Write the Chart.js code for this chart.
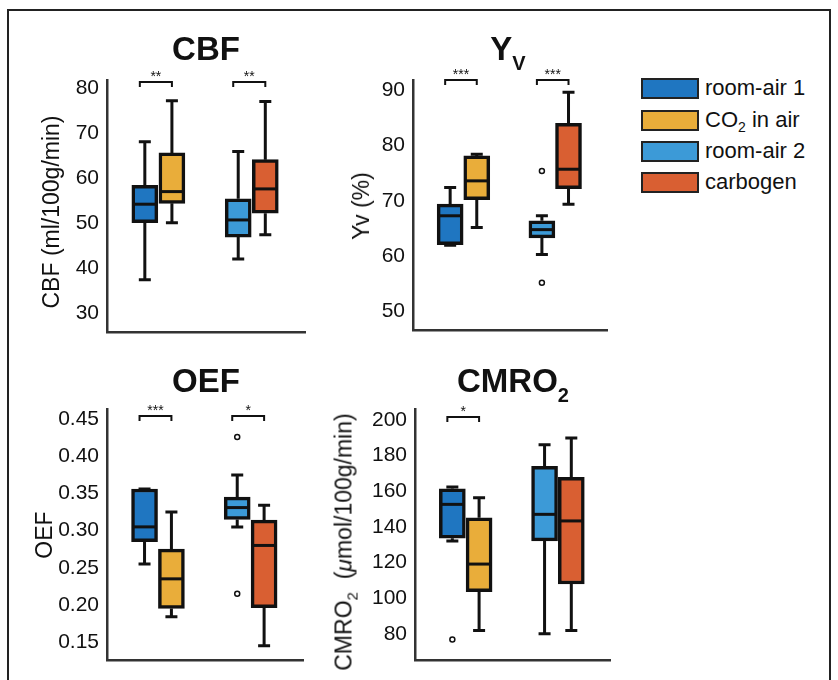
<!DOCTYPE html>
<html>
<head>
<meta charset="utf-8">
<script src="https://cdn.jsdelivr.net/npm/chart.js@4.4.0/dist/chart.umd.min.js"></script>
<style>
  body { margin: 0; width: 838px; height: 680px; overflow: hidden; position: relative; background: #fff;
         font-family: "Liberation Sans", Arial, sans-serif; color: #111; }
  #frame { position: absolute; left: 7px; top: 9px; width: 820px; height: 720px; border: 2px solid #222; }
  canvas { position: absolute; }
  .title { position: absolute; font-weight: bold; font-size: 33px; line-height: 33px; white-space: nowrap; transform: translateX(-50%); }
  .title .sub { font-size: 20px; position: relative; top: 10px; }
  .ylab { position: absolute; font-size: 23px; line-height: 24px; white-space: nowrap; transform: translate(-50%, -50%) rotate(-90deg); }
  .ylab .sub { font-size: 15px; position: relative; top: 6px; }
  .leg { position: absolute; left: 641px; height: 21px; }
  .leg .sw { position: absolute; left: 0; top: 0; width: 58px; height: 21px; box-sizing: border-box; border: 2.5px solid #222; }
  .leg .lt { position: absolute; left: 64px; top: -2px; font-size: 22px; line-height: 24px; white-space: nowrap; }
  .leg .sub { font-size: 14px; position: relative; top: 5px; }
</style>
</head>
<body>
<div id="frame"></div>

<canvas id="cbf"></canvas>
<canvas id="yv"></canvas>
<canvas id="oef"></canvas>
<canvas id="cmro2"></canvas>

<div class="title" style="left:206px; top:32px;">CBF</div>
<div class="title" style="left:508px; top:32px;">Y<span class="sub">V</span></div>
<div class="title" style="left:206px; top:364px;">OEF</div>
<div class="title" style="left:513px; top:364px;">CMRO<span class="sub">2</span></div>

<div class="ylab" style="left:51px; top:212px;">CBF (ml/100g/min)</div>
<div class="ylab" style="left:361px; top:206px;">Yv (%)</div>
<div class="ylab" style="left:44px; top:535px;">OEF</div>
<div class="ylab" style="left:345px; top:542px;">CMRO<span class="sub">2</span>&nbsp; (<i>&mu;</i>mol/100g/min)</div>

<div id="legend"></div>

<script>
// groups and box positions on the x axis
const groups = ["room-air 1", "CO2 in air", "room-air 2", "carbogen"];
const boxColors = ["#1f76c1", "#e9ad3a", "#3c9ad7", "#d95f32"];
const boxX = [0.855, 1.145, 1.855, 2.145];

// [min, q1, median, q3, max] per group
const cbfStats = [
  [37.4, 50.1, 54.2, 58.4, 68.1],
  [50.1, 54.4, 57.0, 65.6, 77.2],
  [42.0, 46.9, 50.7, 55.4, 65.9],
  [47.4, 52.2, 57.6, 64.1, 77.0]
];
const cbfOutliers = [[], [], [], []];
const cbfTicks = [30, 40, 50, 60, 70, 80];

const yvStats = [
  [62.0, 62.1, 67.3, 69.4, 72.4],
  [65.2, 70.2, 73.6, 78.1, 78.4],
  [60.3, 63.3, 64.8, 66.4, 67.3],
  [69.4, 72.2, 75.7, 84.0, 89.6]
];
const yvOutliers = [[], [], [75.4, 55.2], []];
const yvTicks = [50, 60, 70, 80, 90];

const oefStats = [
  [0.255, 0.285, 0.305, 0.356, 0.356],
  [0.184, 0.195, 0.235, 0.275, 0.325],
  [0.305, 0.315, 0.331, 0.345, 0.375],
  [0.145, 0.196, 0.280, 0.314, 0.334]
];
const oefOutliers = [[], [], [0.426, 0.215], []];
const oefTicks = [0.15, 0.20, 0.25, 0.30, 0.35, 0.40, 0.45];

const cmroStats = [
  [132.1, 133.6, 152.6, 161.3, 162.4],
  [81.9, 103.6, 119.1, 145.1, 156.3],
  [80.0, 132.1, 147.0, 174.0, 186.0],
  [81.9, 107.9, 143.3, 167.8, 189.8]
];
const cmroOutliers = [[76.8], [], [], []];
const cmroTicks = [80, 100, 120, 140, 160, 180, 200];

// significance brackets: [box a, box b, label]
const cbfSig = [[0, 1, "**"], [2, 3, "**"]];
const yvSig = [[0, 1, "***"], [2, 3, "***"]];
const oefSig = [[0, 1, "***"], [2, 3, "*"]];
const cmroSig = [[0, 1, "*"]];

const FONT = '"Liberation Sans", Arial, sans-serif';
const INK = "#111";

// whiskers, medians and significance brackets, placed with the chart's scales
const boxPlugin = {
  id: "boxes",
  afterDatasetsDraw(chart, args, opts) {
    const { ctx, chartArea } = chart;
    const xs = chart.scales.x, ys = chart.scales.y;
    ctx.save();
    ctx.strokeStyle = INK;
    ctx.lineWidth = 3;
    opts.stats.forEach((s, i) => {
      const x = xs.getPixelForValue(boxX[i]);
      const yMin = ys.getPixelForValue(s[0]);
      const yQ1 = ys.getPixelForValue(s[1]);
      const yMed = ys.getPixelForValue(s[2]);
      const yQ3 = ys.getPixelForValue(s[3]);
      const yMax = ys.getPixelForValue(s[4]);
      ctx.beginPath();
      ctx.moveTo(x, yQ3); ctx.lineTo(x, yMax);
      ctx.moveTo(x - 6, yMax); ctx.lineTo(x + 6, yMax);
      ctx.moveTo(x, yQ1); ctx.lineTo(x, yMin);
      ctx.moveTo(x - 6, yMin); ctx.lineTo(x + 6, yMin);
      ctx.stroke();
      ctx.beginPath();
      ctx.moveTo(x - 12, yMed); ctx.lineTo(x + 12, yMed);
      ctx.stroke();
    });
    // brackets
    ctx.lineWidth = 2;
    ctx.fillStyle = INK;
    ctx.font = "14px " + FONT;
    ctx.textAlign = "center";
    ctx.textBaseline = "alphabetic";
    const yb = chartArea.top + opts.offset;
    opts.sig.forEach(([a, b, label]) => {
      const x1 = xs.getPixelForValue(boxX[a]) - 5;
      const x2 = xs.getPixelForValue(boxX[b]);
      ctx.beginPath();
      ctx.moveTo(x1, yb + 5); ctx.lineTo(x1, yb); ctx.lineTo(x2, yb); ctx.lineTo(x2, yb + 5);
      ctx.stroke();
      ctx.fillText(label, (x1 + x2) / 2, yb - 1);
    });
    ctx.restore();
  }
};

function makePanel(id, area, stats, outliers, ticks, yMin, yMax, sig, offset, decimals) {
  const padL = 70, padT = 16, padR = 4, padB = 4;
  const cv = document.getElementById(id);
  cv.width = (area.right - area.left) + padL + padR;
  cv.height = (area.bottom - area.top) + padT + padB;
  cv.style.left = (area.left - padL) + "px";
  cv.style.top = (area.top - padT) + "px";

  const boxes = stats.map((s, i) => ({ x: boxX[i], y: [s[1], s[3]] }));
  const pts = outliers.flatMap((arr, i) => arr.map(v => ({ x: boxX[i], y: v })));

  new Chart(cv, {
    type: "bar",
    data: {
      datasets: [
        {
          type: "bar",
          data: boxes,
          backgroundColor: boxColors,
          borderColor: INK,
          borderWidth: 3.5,
          borderSkipped: false,
          barThickness: 26
        },
        {
          type: "scatter",
          data: pts,
          pointRadius: 2.5,
          pointBorderWidth: 1.5,
          pointBackgroundColor: "#fff",
          pointBorderColor: INK
        }
      ]
    },
    options: {
      responsive: false,
      animation: false,
      layout: { padding: { top: padT, right: padR, bottom: padB, left: 0 } },
      plugins: {
        legend: { display: false },
        tooltip: { enabled: false },
        boxes: { stats: stats, sig: sig, offset: offset }
      },
      scales: {
        x: {
          type: "linear",
          min: 0.45,
          max: 2.57,
          offset: false,
          afterFit: s => { s.height = 0; s.paddingLeft = 0; s.paddingRight = 0; s.paddingTop = 0; s.paddingBottom = 0; },
          ticks: { display: false },
          grid: { display: false, drawTicks: false },
          border: { display: true, color: "#333", width: 2.5 }
        },
        y: {
          type: "linear",
          min: yMin,
          max: yMax,
          afterFit: s => { s.width = padL; s.paddingTop = 0; s.paddingBottom = 0; },
          afterBuildTicks: s => { s.ticks = ticks.map(v => ({ value: v })); },
          ticks: {
            autoSkip: false,
            padding: 8,
            color: INK,
            font: { size: 21, family: FONT },
            callback: v => decimals ? Number(v).toFixed(decimals) : v
          },
          grid: { display: false, drawTicks: false },
          border: { display: true, color: "#333", width: 2.5 }
        }
      }
    },
    plugins: [boxPlugin]
  });
}

makePanel("cbf", { left: 107, top: 80, right: 305, bottom: 332 }, cbfStats, cbfOutliers, cbfTicks, 25.8, 81.8, cbfSig, 2, 0);
makePanel("yv", { left: 413, top: 80, right: 609, bottom: 332 }, yvStats, yvOutliers, yvTicks, 46.6, 91.8, yvSig, 0, 0);
makePanel("oef", { left: 107, top: 409, right: 305, bottom: 662 }, oefStats, oefOutliers, oefTicks, 0.125, 0.4638, oefSig, 7, 2);
makePanel("cmro2", { left: 415, top: 409, right: 612, bottom: 662 }, cmroStats, cmroOutliers, cmroTicks, 65.0, 206.1, cmroSig, 8, 0);

// legend
const legendTops = [78, 109.5, 141, 172];
const legend = document.getElementById("legend");
groups.forEach((g, i) => {
  const row = document.createElement("div");
  row.className = "leg";
  row.style.top = legendTops[i] + "px";
  const label = g === "CO2 in air" ? 'CO<span class="sub">2</span> in air' : g;
  row.innerHTML = '<div class="sw" style="background:' + boxColors[i] + '"></div><div class="lt">' + label + '</div>';
  legend.appendChild(row);
});
</script>
</body>
</html>
